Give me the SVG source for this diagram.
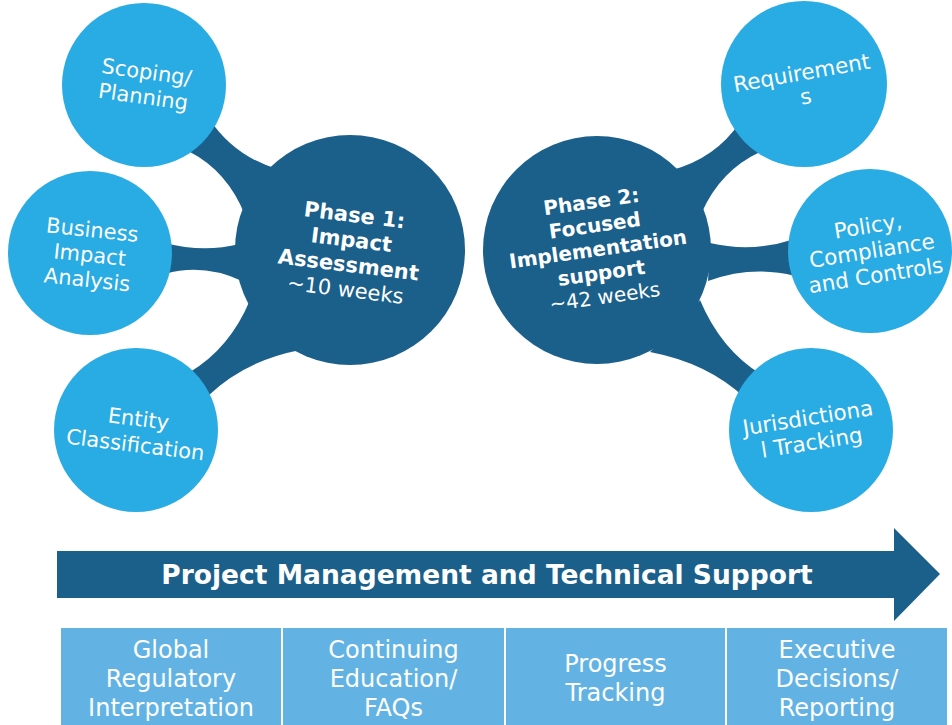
<svg xmlns="http://www.w3.org/2000/svg" width="952" height="725" viewBox="0 0 952 725">
<style>
.dark{fill:#1b5f8b}
.light{fill:#29abe4}
.box{fill:#62b3e4}
.t{font-family:"DejaVu Sans",Verdana,sans-serif;fill:#fff;text-anchor:middle}
.sat{font-size:21px}
.satr{font-size:21.5px}
.ph{font-size:21px;font-weight:bold}
.ph2{font-size:20px;font-weight:bold}
.wk{font-size:21px}
.wk2{font-size:20px}
.bx{font-size:24px}
.ar{font-size:26.5px;font-weight:bold}
</style>
<rect width="952" height="725" fill="#fff"/>
<g id="connectors" class="dark">
<path d="M210,120 Q235,157 280,170 L245,215 Q227,171 190,152 Z"/>
<path d="M165,243 Q203,253 240,244 L242,281 Q203,263 165,274 Z"/>
<path d="M190,372 Q230,348 250,300 L300,350 Q244,361 208,396 Z"/>
<path d="M740,122 Q716,158 672,170 L702,212 Q721,170 760,152 Z"/>
<path d="M795,239 Q752,253 710,243 L708,281 Q752,265 795,276 Z"/>
<path d="M700,300 Q721,350 762,375 L745,398 Q708,363 650,352 Z"/>
</g>
<g id="phase1">
<circle class="dark" cx="350" cy="250" r="115"/>
<g transform="translate(350,252) rotate(7)">
<text class="t ph" y="-30">Phase 1:</text>
<text class="t ph" y="-5">Impact</text>
<text class="t ph" y="20">Assessment</text>
<text class="t wk" y="45">~10 weeks</text>
</g>
</g>
<g id="phase2">
<circle class="dark" cx="597" cy="250" r="114"/>
<g transform="translate(599,256) rotate(-8)">
<text class="t ph2" y="-48">Phase 2:</text>
<text class="t ph2" y="-24">Focused</text>
<text class="t ph2" y="0">Implementation</text>
<text class="t ph2" y="24">support</text>
<text class="t wk2" y="48">~42 weeks</text>
</g>
</g>
<g id="scoping">
<circle class="light" cx="144" cy="85" r="82"/>
<g transform="translate(144,91) rotate(8)">
<text class="t sat" y="-12">Scoping/</text>
<text class="t sat" y="13">Planning</text>
</g>
</g>
<g id="business">
<circle class="light" cx="90" cy="253" r="82"/>
<g transform="translate(89,262) rotate(6)">
<text class="t sat" y="-25">Business</text>
<text class="t sat" y="0">Impact</text>
<text class="t sat" y="25">Analysis</text>
</g>
</g>
<g id="entity">
<circle class="light" cx="136" cy="430" r="82"/>
<g transform="translate(136,439) rotate(7)">
<text class="t sat" y="-13">Entity</text>
<text class="t sat" y="13">Classification</text>
</g>
</g>
<g id="requirements">
<circle class="light" cx="804" cy="84" r="83"/>
<g transform="translate(805,92) rotate(-10)">
<text class="t satr" y="-12">Requirement</text>
<text class="t satr" y="12">s</text>
</g>
</g>
<g id="policy">
<circle class="light" cx="870" cy="251" r="82"/>
<g transform="translate(873,258) rotate(-9)">
<text class="t satr" y="-25">Policy,</text>
<text class="t satr" y="0">Compliance</text>
<text class="t satr" y="25">and Controls</text>
</g>
</g>
<g id="jurisdictional">
<circle class="light" cx="811" cy="430" r="82"/>
<g transform="translate(811,438) rotate(-9)">
<text class="t satr" y="-13">Jurisdictiona</text>
<text class="t satr" y="12">l Tracking</text>
</g>
</g>
<g id="arrow">
<path class="dark" d="M57,551 L894,551 L894,528 L940,574 L894,621 L894,598 L57,598 Z"/>
<text class="t ar" x="487" y="584">Project Management and Technical Support</text>
</g>
<g id="box1">
<rect class="box" x="61" y="628" width="220" height="97"/>
<text class="t bx" x="171" y="658">Global</text>
<text class="t bx" x="171" y="687">Regulatory</text>
<text class="t bx" x="171" y="716">Interpretation</text>
</g>
<g id="box2">
<rect class="box" x="283" y="628" width="221" height="97"/>
<text class="t bx" x="393.5" y="658">Continuing</text>
<text class="t bx" x="393.5" y="687">Education/</text>
<text class="t bx" x="393.5" y="716">FAQs</text>
</g>
<g id="box3">
<rect class="box" x="506" y="628" width="219" height="97"/>
<text class="t bx" x="615.5" y="672">Progress</text>
<text class="t bx" x="615.5" y="701">Tracking</text>
</g>
<g id="box4">
<rect class="box" x="727" y="628" width="220" height="97"/>
<text class="t bx" x="837" y="658">Executive</text>
<text class="t bx" x="837" y="687">Decisions/</text>
<text class="t bx" x="837" y="716">Reporting</text>
</g>
</svg>
